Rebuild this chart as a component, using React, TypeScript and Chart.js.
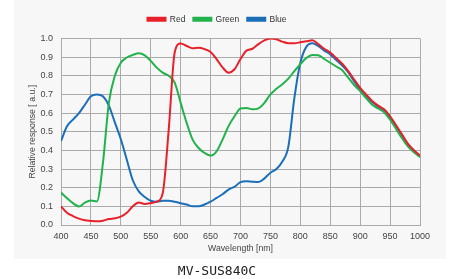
import React, { useEffect, useRef } from "react";
import { Chart, registerables } from "chart.js";

Chart.register(...registerables);

const wavelengths = [
  400, 410, 420, 430, 440, 450, 460, 470, 480, 490, 500, 510, 520, 530, 540, 550, 560, 570, 580, 590,
  600, 610, 620, 630, 640, 650, 660, 670, 680, 690, 700, 710, 720, 730, 740, 750, 760, 770, 780, 790,
  800, 810, 820, 830, 840, 850, 860, 870, 880, 890, 900, 910, 920, 930, 940, 950, 960, 970, 980, 990, 1000,
];

const redValues = [
  0.1, 0.066, 0.048, 0.034, 0.025, 0.022, 0.02, 0.023, 0.032, 0.036, 0.045, 0.066, 0.1, 0.12, 0.113, 0.117, 0.125, 0.17, 0.51, 0.925,
  0.973, 0.96, 0.948, 0.95, 0.943, 0.928, 0.89, 0.845, 0.817, 0.835, 0.89, 0.935, 0.945, 0.97, 0.99, 1.0, 0.996, 0.983, 0.975, 0.975,
  0.98, 0.985, 0.99, 0.97, 0.945, 0.925, 0.895, 0.865, 0.825, 0.78, 0.735, 0.7, 0.665, 0.64, 0.62, 0.583, 0.535, 0.485, 0.435, 0.4, 0.372,
];

const greenValues = [
  0.174, 0.144, 0.117, 0.099, 0.12, 0.131, 0.126, 0.33, 0.655, 0.8, 0.87, 0.898, 0.912, 0.921, 0.91, 0.88, 0.844, 0.817, 0.8, 0.763,
  0.655, 0.548, 0.458, 0.413, 0.386, 0.372, 0.395, 0.458, 0.53, 0.583, 0.625, 0.628, 0.62, 0.625, 0.655, 0.7, 0.73, 0.755, 0.785, 0.825,
  0.862, 0.895, 0.912, 0.91, 0.89, 0.87, 0.85, 0.83, 0.79, 0.75, 0.718, 0.68, 0.645, 0.625, 0.605, 0.565, 0.515, 0.465, 0.42, 0.39, 0.364,
];

const blueValues = [
  0.45, 0.53, 0.565, 0.6, 0.645, 0.69, 0.7, 0.69, 0.64, 0.55, 0.46, 0.35, 0.24, 0.18, 0.15, 0.13, 0.125, 0.13, 0.13, 0.125,
  0.117, 0.11, 0.1, 0.1, 0.11, 0.125, 0.145, 0.165, 0.19, 0.205, 0.23, 0.235, 0.232, 0.23, 0.25, 0.28, 0.3, 0.34, 0.42, 0.68,
  0.87, 0.955, 0.975, 0.96, 0.935, 0.915, 0.885, 0.855, 0.82, 0.77, 0.725, 0.69, 0.66, 0.635, 0.615, 0.575, 0.53, 0.48, 0.43, 0.4, 0.37,
];

const xTicks = [400, 450, 500, 550, 600, 650, 700, 750, 800, 850, 900, 950, 1000];
const yTicks = [0, 0.1, 0.2, 0.3, 0.4, 0.5, 0.6, 0.7, 0.8, 0.9, 1.0];

const seriesNames = ["Red", "Green", "Blue"];
const seriesColors = ["#e8202a", "#22b24c", "#1b6fb8"];

const bgPlugin = {
  id: "panelBg",
  beforeDraw(chart: any) {
    const ctx = chart.ctx;
    ctx.save();
    ctx.fillStyle = "#ffffff";
    ctx.fillRect(0, 0, chart.width, chart.height);
    ctx.fillStyle = "#f7f7f7";
    ctx.fillRect(14, 0, 432, 259);
    ctx.restore();
  },
};

const legendGap = {
  id: "legendGap",
  beforeInit(chart: any) {
    const orig = chart.legend.fit;
    chart.legend.fit = function () {
      orig.call(this);
      this.height += 5;
    };
  },
};

export default function App() {
  const ref = useRef<HTMLCanvasElement | null>(null);
  useEffect(() => {
    if (!ref.current) return;
    const sets = [redValues, greenValues, blueValues];
    const chart = new Chart(ref.current, {
      type: "line",
      data: {
        datasets: sets.map((vals, i) => ({
          label: seriesNames[i],
          data: wavelengths.map((w, j) => ({ x: w, y: vals[j] })),
          borderColor: seriesColors[i],
          backgroundColor: seriesColors[i],
          borderWidth: 2,
          pointRadius: 0,
          cubicInterpolationMode: "monotone" as const,
          fill: false,
        })),
      },
      options: {
        responsive: false,
        animation: false,
        devicePixelRatio: 1,
        layout: { padding: { left: 14, right: 36, top: 7, bottom: 0 } },
        plugins: {
          legend: {
            display: true,
            position: "top",
            labels: {
              boxWidth: 18,
              boxHeight: 3,
              padding: 8,
              color: "#333",
              font: { family: "Liberation Sans, Arial, sans-serif", size: 8.5 },
            },
          },
          title: {
            display: true,
            position: "bottom",
            text: "MV-SUS840C",
            color: "#222",
            font: { family: "DejaVu Sans Mono, monospace", size: 13, weight: "normal" },
            padding: { top: 5, bottom: 0 },
          },
          tooltip: { enabled: false },
        },
        scales: {
          x: {
            type: "linear",
            min: 400,
            max: 1000,
            afterBuildTicks(scale: any) {
              scale.ticks = xTicks.map((v) => ({ value: v }));
            },
            afterFit(scale: any) {
              scale.height = 33.4;
            },
            grid: { color: "#aaaaaa", lineWidth: 1, drawTicks: false },
            border: { color: "#aaaaaa" },
            ticks: {
              padding: 6,
              color: "#444",
              font: { family: "Liberation Sans, Arial, sans-serif", size: 9 },
              maxRotation: 0,
              autoSkip: false,
              callback: (v: any) => String(v),
            },
            title: {
              display: true,
              text: "Wavelength [nm]",
              color: "#444",
              font: { family: "Liberation Sans, Arial, sans-serif", size: 8.7 },
              padding: { top: 0, bottom: 5 },
            },
          },
          y: {
            type: "linear",
            min: 0,
            max: 1,
            afterBuildTicks(scale: any) {
              scale.ticks = yTicks.map((v) => ({ value: v }));
            },
            afterFit(scale: any) {
              scale.width = 47;
            },
            grid: { color: "#aaaaaa", lineWidth: 1, drawTicks: false },
            border: { color: "#aaaaaa" },
            ticks: {
              padding: 8,
              color: "#444",
              font: { family: "Liberation Sans, Arial, sans-serif", size: 9 },
              callback: (v: any) => Number(v).toFixed(1),
              autoSkip: false,
            },
            title: {
              display: true,
              text: "Relative response [ a.u.]",
              color: "#444",
              font: { family: "Liberation Sans, Arial, sans-serif", size: 8.7 },
              padding: { top: 13, bottom: 0 },
            },
          },
        },
      },
      plugins: [bgPlugin, legendGap],
    });
    return () => chart.destroy();
  }, []);
  return (
    <div style={{ width: 456, height: 279, position: "absolute", left: 0, top: 0 }}>
      <canvas ref={ref} width={456} height={279} style={{ width: 456, height: 279, display: "block" }} />
    </div>
  );
}
